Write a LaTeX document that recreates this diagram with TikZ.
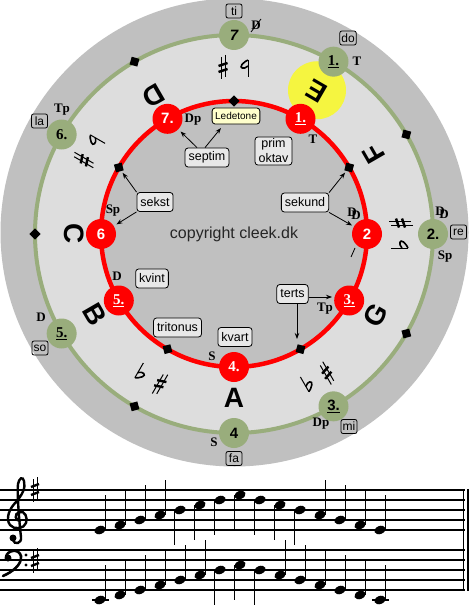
\documentclass[tikz,border=0pt]{standalone}
\usepackage{fontspec}
\setmainfont{Liberation Serif}
\setsansfont{Liberation Sans}
\usetikzlibrary{arrows.meta}
\definecolor{dgray}{RGB}{192,192,192}
\definecolor{lgray}{RGB}{221,221,221}
\definecolor{sage}{RGB}{153,173,124}
\definecolor{yel}{RGB}{245,245,64}
\definecolor{boxfill}{RGB}{232,232,232}
\definecolor{ledfill}{RGB}{255,255,204}
\newcommand\ddsym{\mbox{D\kern-0.42em\raisebox{-0.2em}{D}}}
\begin{document}
\begin{tikzpicture}[x=1pt,y=-1pt,
  rn/.style={circle,fill=red,minimum size=30pt,inner sep=0pt,text=white},
  gn/.style={circle,fill=sage,minimum size=30pt,inner sep=0pt,text=black},
  serifnum/.style={font=\bfseries\fontsize{15}{15}\selectfont},
  sansnum/.style={font=\sffamily\bfseries\fontsize{15}{15}\selectfont},
  dia/.style={rectangle,fill=black,minimum size=8pt,inner sep=0pt},
  fn/.style={font=\bfseries\fontsize{13}{13}\selectfont,inner sep=0pt},
  lett/.style={font=\sffamily\bfseries\fontsize{28}{28}\selectfont,inner sep=0pt},
  solf/.style={draw,rounded corners=2pt,font=\sffamily\fontsize{12}{12}\selectfont,inner sep=1.5pt,minimum height=14pt,minimum width=16pt,line width=0.8pt},
  lbl/.style={draw,fill=boxfill,rounded corners=3pt,font=\sffamily\fontsize{12.5}{15}\selectfont,inner xsep=3.5pt,inner ysep=2pt,minimum height=19pt,line width=0.8pt},
  arr/.style={-{Stealth[length=6pt,width=4.5pt]},line width=0.8pt}]
\useasboundingbox (0,0) rectangle (469,615);
\fill[white] (0,0) rectangle (469,615);
\coordinate (O) at (234,234);
% disks and rings
\fill[dgray] (234.5,232.5) circle[radius=234pt];
\fill[lgray] (O) circle[radius=199pt];
\fill[dgray] (O) circle[radius=133pt];
\fill[yel] ([shift={(60:166pt)}]O) circle[radius=29pt];
\draw[sage,line width=4pt] (O) circle[radius=199pt];
\draw[red,line width=4.5pt] (O) circle[radius=133pt];
% diamonds
\foreach \a in {120,30,180,-30,-120}
  \node[dia,rotate=\a+45] (gd\a) at ([shift={(\a:199pt)}]O) {};
\foreach \a in {90,30,-60,-120,150}
  \node[dia,rotate=\a+45] (rd\a) at ([shift={(\a:133pt)}]O) {};
% green nodes
\node[gn,font=\sffamily\bfseries\itshape\fontsize{15}{15}\selectfont] (g7) at ([shift={(90:199pt)}]O) {7};
\node[gn,serifnum] (g1) at ([shift={(60:199pt)}]O) {\underline{1.}};
\node[gn,sansnum] (g2) at ([shift={(0:199pt)}]O) {2.};
\node[gn,sansnum] (g3) at ([shift={(-60:199pt)}]O) {\underline{3.}};
\node[gn,sansnum] (g4) at ([shift={(-90:199pt)}]O) {4};
\node[gn,serifnum] (g5) at ([shift={(-150:199pt)}]O) {\underline{5.}};
\node[gn,serifnum] (g6) at ([shift={(150:199pt)}]O) {6.};
% red nodes
\node[rn,serifnum] (r1) at ([shift={(60:133pt)}]O) {\underline{1.}};
\node[rn,sansnum] (r2) at ([shift={(0:133pt)}]O) {2};
\node[rn,serifnum] (r3) at ([shift={(-30:133pt)}]O) {\underline{3.}};
\node[rn,serifnum] (r4) at ([shift={(-90:133pt)}]O) {4.};
\node[rn,serifnum] (r5) at ([shift={(-150:133pt)}]O) {\underline{5.}};
\node[rn,sansnum] (r6) at ([shift={(180:133pt)}]O) {6};
\node[rn,sansnum] (r7) at ([shift={(120:133pt)}]O) {7.};
% letters
\foreach \ltr/\a/\rad in {C/180/160,D/120/160,E/60/165,F/30/161,G/-30/163,A/-90/164,B/-150/161}
  \node[lett,rotate=\a+90] (L\ltr) at ([shift={(\a:\rad pt)}]O) {\ltr};
% accidentals (sharp and flat, drawn upright in a rotated frame)
\foreach \a in {150,90,0,-60,-120}{
  \begin{scope}[shift={(O)},rotate=\a+90]
    % sharp centred at (11pt,-167pt)
    \draw[line width=1pt] (9pt,-179pt) -- (9pt,-157pt);
    \draw[line width=1pt] (13pt,-177pt) -- (13pt,-155pt);
    \draw[line width=2.4pt] (6.5pt,-171pt) -- (15.5pt,-168pt);
    \draw[line width=2.4pt] (6.5pt,-165pt) -- (15.5pt,-162pt);
    % flat centred at (-11pt,-167pt)
    \draw[line width=1pt] (-14pt,-174pt) -- (-14pt,-157pt);
    \draw[line width=1.6pt] (-14pt,-168pt) .. controls (-10pt,-164pt) and (-5pt,-166pt) .. (-8pt,-169.5pt)
      .. controls (-10pt,-172pt) and (-12pt,-173pt) .. (-14pt,-174pt);
  \end{scope}
}
% function labels, outer ring
\node[fn] (gT) at (357,61) {T};
\node[fn] (gDD) at (442,213) {\ddsym};
\node[fn] (gSp) at (445,257) {Sp};
\node[fn] (gDp) at (321,424) {Dp};
\node[fn] (gS) at (214,442) {S};
\node[fn] (gD) at (41,317) {D};
\node[fn] (gTp) at (62,110) {Tp};
\node[fn] (gDs) at (256,25) {D};
\draw[line width=0.8pt] ([shift={(-5pt,-7pt)}]gDs.center) -- ([shift={(5pt,6pt)}]gDs.center);
% function labels, inner ring
\node[fn] (rT) at (313,139) {T};
\node[fn] (rDD) at (354,214) {\ddsym};
\node[fn] (rTp) at (325,309) {Tp};
\node[fn] (rS) at (212,356) {S};
\node[fn] (rD) at (117,276) {D};
\node[fn] (rSp) at (113,211) {Sp};
\node[fn] (rDp) at (193,120) {Dp};
\coordinate (sl1) at (351,257);
\coordinate (sl2) at (355,248);
\draw[line width=0.8pt] (sl1) -- (sl2);
% solfege
\node[solf] (ti) at (234,11) {ti};
\node[solf] (do) at (348,38) {do};
\node[solf] (re) at (458.5,232) {re};
\node[solf] (mi) at (349,426.5) {mi};
\node[solf] (fa) at (234,458.5) {fa};
\node[solf] (so) at (40,348) {so};
\node[solf] (la) at (39.5,121) {la};
% interval labels
\node[lbl] (septim) at (207,157.5) {septim};
\node[lbl,fill=ledfill,font=\sffamily\fontsize{10}{10}\selectfont,minimum height=16pt,inner xsep=3pt] (lede) at (236,116) {Ledetone};
\node[lbl,align=center] (prim) at (273.5,151) {prim\\oktav};
\node[lbl] (sekst) at (155,202) {sekst};
\node[lbl] (sekund) at (305,202.5) {sekund};
\node[lbl] (kvint) at (152,278.5) {kvint};
\node[lbl] (tritonus) at (177.5,327.5) {tritonus};
\node[lbl] (kvart) at (235,337) {kvart};
\node[lbl] (terts) at (292.5,294) {terts};
\node[font=\sffamily\fontsize{16}{16}\selectfont,text=black!85] (copy) at (234,234) {copyright cleek.dk};
% arrows
\coordinate (ledtip) at (221,128);
\coordinate (tertsTipA) at (332,297);
\coordinate (tertsTipB) at (297,339);
\draw[arr,shorten >=3pt] ([xshift=-10pt]septim.north) -- (r7);
\draw[arr] ([xshift=-2pt]septim.north) -- (ledtip);
\draw[arr,shorten >=2pt] (sekst.north west) -- (rd150);
\draw[arr,shorten >=3pt] (sekst.south west) -- (r6);
\draw[arr,shorten >=2pt] (sekund.north east) -- (rd30);
\draw[arr,shorten >=2pt] (sekund.south east) -- (r2);
\draw[arr] ([yshift=-3pt]terts.east) -- (tertsTipA);
\draw[arr] ([xshift=4.5pt]terts.south) -- (tertsTipB);
% staves
\foreach \y in {490,500,510,520,530,550,560,570,580,590}
  \draw[line width=1.6pt] (0,\y) -- (465,\y);
\draw[line width=1.2pt] (463.5,489.2) -- (463.5,590.8);
\fill (466.5,489.2) rectangle (469,590.8);
% treble clef
\draw[line width=2.4pt,line cap=round] (20,521) .. controls (15,521) and (14,514) .. (19,512)
  .. controls (25,510) and (28,518) .. (26,523) .. controls (24,529) and (14,530) .. (10,525)
  .. controls (5,518) and (10,508) .. (16,502) .. controls (22,495) and (26,488) .. (24,481)
  .. controls (23,476) and (19,478) .. (18,484) .. controls (17,492) and (19,520) .. (21,537)
  .. controls (22,544) and (14,545) .. (13,540);
\fill (13,538) circle[radius=3.5pt];
% bass clef
\draw[line width=2.6pt,line cap=round] (6,557) .. controls (7,550) and (19,548) .. (21,556)
  .. controls (22,565) and (12,572) .. (3,576);
\fill (8,558) circle[radius=3.5pt];
\fill (26,555) circle[radius=1.6pt];
\fill (26,565) circle[radius=1.6pt];
% key signatures
\foreach \y in {489,560}{
  \draw[line width=1pt] (33,\y-10) -- (33,\y+13);
  \draw[line width=1pt] (37,\y-12) -- (37,\y+11);
  \draw[line width=2.4pt] (31,\y-2) -- (39,\y-5);
  \draw[line width=2.4pt] (31,\y+6) -- (39,\y+3);
}
% notes
\foreach \x/\y in {100/530,120/525,140/520,160/515,320/515,340/520,360/525,380/530,
                   100/600,120/595,140/590,160/585,180/580,200/575,280/575,300/580,320/585,340/590,360/595,380/600}{
  \fill[rotate around={22:(\x,\y)}] (\x,\y) ellipse[x radius=5.8pt,y radius=4pt];
  \draw[line width=1pt] (\x+5.4,\y) -- (\x+5.4,\y-35);
}
\foreach \x/\y in {180/510,200/505,220/500,240/495,260/500,280/505,300/510,220/570,240/565,260/570}{
  \fill[rotate around={22:(\x,\y)}] (\x,\y) ellipse[x radius=5.8pt,y radius=4pt];
  \draw[line width=1pt] (\x-5.4,\y) -- (\x-5.4,\y+35);
}
\foreach \x in {100,380}
  \draw[line width=1.6pt] (\x-8,600) -- (\x+9,600);
\end{tikzpicture}
\end{document}
